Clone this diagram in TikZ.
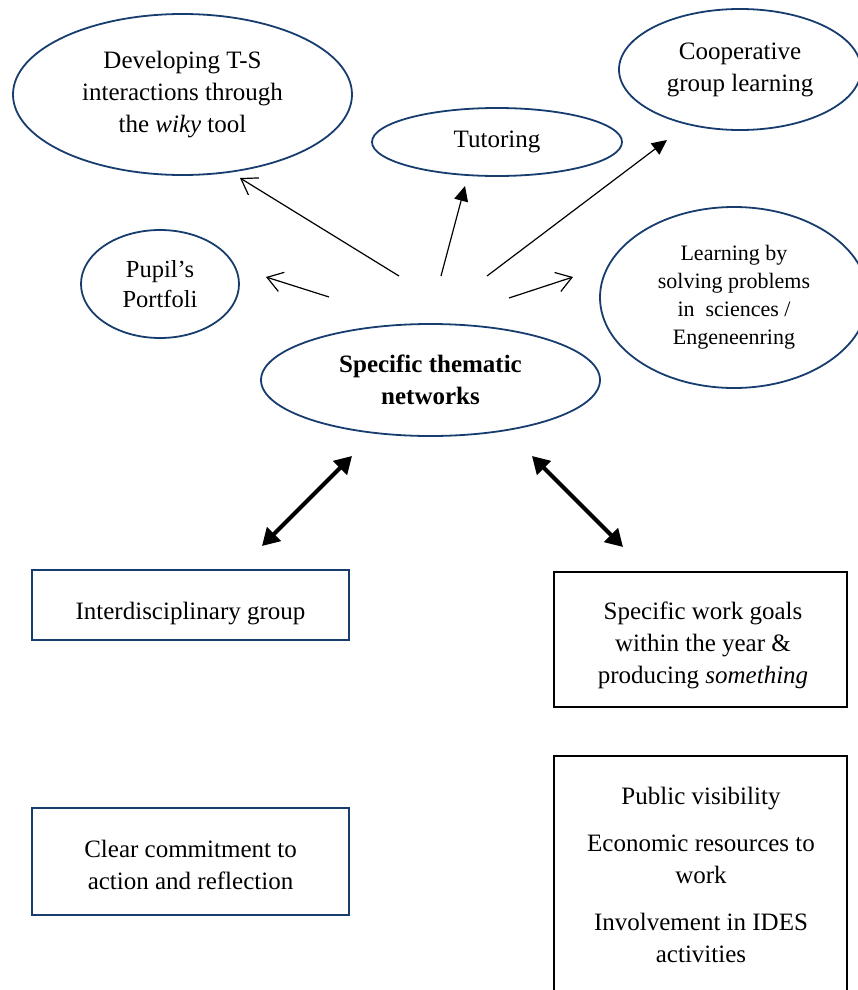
\documentclass[tikz,border=0pt]{standalone}
\usepackage{fontspec}
\setmainfont{Liberation Serif}
\usetikzlibrary{shapes.geometric,arrows.meta}
\definecolor{navy}{RGB}{23,60,110}
\begin{document}
\begin{tikzpicture}[x=1pt,y=-1pt,
  bubble/.style={ellipse, draw=navy, line width=1.8pt, inner sep=0pt,
    align=center, font=\fontsize{25}{32}\selectfont},
  bluebox/.style={draw=navy, line width=1.8pt, inner sep=0pt},
  blackbox/.style={draw=black, line width=1.6pt, inner sep=0pt},
  lbl/.style={align=center, inner sep=0pt, font=\fontsize{25}{32}\selectfont},
  openarrow/.style={line width=1.2pt, -{Straight Barb[length=15pt,width=20pt]}},
  filledarrow/.style={line width=1.2pt, -{Triangle[length=15pt,width=14pt]}},
  bigarrow/.style={line width=4pt, {Triangle[length=17pt,width=19pt]}-{Triangle[length=17pt,width=19pt]}}
]
\useasboundingbox (0,0) rectangle (858,990);
\clip (0,0) rectangle (858,990);

% satellite ellipses
\node[bubble, minimum width=339pt, minimum height=161pt] (dev) at (182.5,94.5)
  {Developing T-S\\interactions through\\the \textit{wiky} tool};
\node[bubble, minimum width=250pt, minimum height=68pt] (tut) at (497,142) {Tutoring};
\node[bubble, minimum width=242pt, minimum height=121pt] (coop) at (740,69.5)
  {Cooperative\\group learning};
\node[bubble, minimum width=268pt, minimum height=181pt, font=\fontsize{22}{28}\selectfont]
  (solve) at (734,297.5) {Learning by\\solving problems\\in\ \ sciences /\\Engeneenring};
\node[bubble, minimum width=158pt, minimum height=108pt, font=\fontsize{24.5}{30}\selectfont]
  (port) at (160,284) {Pupil’s\\Portfoli};

% central ellipse
\node[bubble, minimum width=339pt, minimum height=112pt,
  font=\bfseries\fontsize{25}{32}\selectfont] (net) at (430.5,380)
  {Specific thematic\\networks};

% arrow end points
\coordinate (devS) at (399,276);   \coordinate (devE) at (240,178);
\coordinate (portS) at (329,297);  \coordinate (portE) at (266,277);
\coordinate (solveS) at (509,298); \coordinate (solveE) at (573,277);
\coordinate (tutS) at (441,276);   \coordinate (tutE) at (465,186);
\coordinate (coopS) at (487,276);  \coordinate (coopE) at (667,140);
\coordinate (leftA) at (262,546);  \coordinate (leftB) at (352,456);
\coordinate (rightA) at (532,456); \coordinate (rightB) at (623,547);

\draw[openarrow] (devS) -- (devE);
\draw[openarrow] (portS) -- (portE);
\draw[openarrow] (solveS) -- (solveE);
\draw[filledarrow] (tutS) -- (tutE);
\draw[filledarrow] (coopS) -- (coopE);
\draw[bigarrow] (leftA) -- (leftB);
\draw[bigarrow] (rightA) -- (rightB);

% boxes
\node[bluebox, minimum width=317pt, minimum height=70pt] (inter) at (190.5,605) {};
\node[lbl] (intertext) at (190.5,614) {Interdisciplinary group};

\node[blackbox, minimum width=293pt, minimum height=135pt] (goals) at (700.5,639.5) {};
\node[lbl] (goalstext) at (703,645) {Specific work goals\\within the year \&\\producing \textit{something}};

\node[bluebox, minimum width=317pt, minimum height=107pt] (commit) at (190.5,861.5) {};
\node[lbl] (committext) at (190.5,865) {Clear commitment to\\action and reflection};

\node[blackbox, minimum width=293pt, minimum height=245pt] (public) at (700.5,878.5) {};
\node[lbl] (publictext) at (701,875) {Public visibility\\[15pt]Economic resources to\\work\\[15pt]Involvement in IDES\\activities};
\end{tikzpicture}
\end{document}
